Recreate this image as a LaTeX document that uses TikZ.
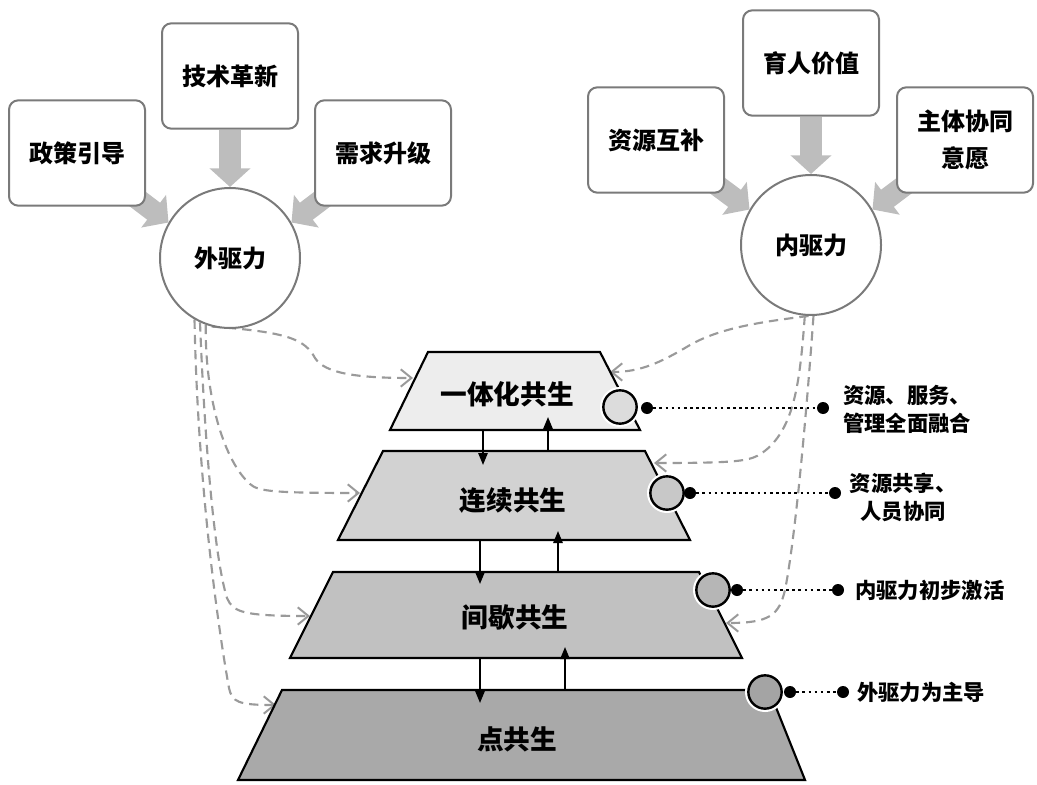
\documentclass[tikz,border=0pt]{standalone}
\usepackage{fontspec}
\setmainfont{Noto Sans CJK SC}
\usetikzlibrary{arrows.meta,backgrounds}
\definecolor{boxline}{HTML}{7A7A7A}
\definecolor{fatgray}{HTML}{BDBDBD}
\definecolor{dashgray}{HTML}{9A9A9A}
\definecolor{lv1}{HTML}{EDEDED}
\definecolor{lv2}{HTML}{D2D2D2}
\definecolor{lv3}{HTML}{C1C1C1}
\definecolor{lv4}{HTML}{A9A9A9}
\definecolor{mc1}{HTML}{DCDCDC}
\definecolor{mc2}{HTML}{C8C8C8}
\definecolor{mc3}{HTML}{B6B6B6}
\definecolor{mc4}{HTML}{A4A4A4}
\tikzset{
  srcbox/.style={draw=boxline, line width=1.5pt, rounded corners=7pt, fill=white,
    minimum width=102pt, minimum height=79pt, align=center, inner sep=2pt,
    font=\bfseries\fontsize{18}{28}\selectfont},
  drvcirc/.style={circle, draw=boxline, line width=1.5pt, fill=white, minimum size=105pt,
    inner sep=0pt, font=\bfseries\fontsize{18}{22}\selectfont},
  fatarrow/.style={draw=fatgray, line width=16pt, -{Triangle[length=14pt,width=30pt]}},
  dashconn/.style={draw=dashgray, line width=1.6pt, dash pattern=on 7pt off 4.5pt,
    -{Straight Barb[length=8pt,width=13pt,line width=1.5pt]}},
  lvlarrow/.style={draw=black, line width=1.4pt, -{Triangle[length=9pt,width=7pt]}},
  levelshape/.style={draw=black, line width=1.6pt, line join=miter},
  levellabel/.style={font=\bfseries\fontsize{20}{24}\selectfont, inner sep=0pt},
  minicirc/.style={circle, draw=black, line width=1.8pt, minimum size=25pt, inner sep=0pt,
    preaction={draw=white, line width=5pt}},
  blackdot/.style={circle, fill=black, minimum size=9pt, inner sep=0pt},
  dotline/.style={draw=black, line width=2pt, dash pattern=on 2pt off 2.6pt},
  sidelabel/.style={font=\bfseries\fontsize{16}{21}\selectfont, inner sep=0pt}
}
\begin{document}
\begin{tikzpicture}[x=0.75pt,y=-0.75pt]
\useasboundingbox (0,0) rectangle (1037,784);

% source boxes and driver circles
\node[srcbox] (zc) at (77,153) {政策引导};
\node[srcbox] (js) at (230,76) {技术革新};
\node[srcbox] (xq) at (383,153) {需求升级};
\node[drvcirc] (wai) at (230,258) {外驱力};

\node[srcbox] (zy) at (656,140) {资源互补};
\node[srcbox] (yr) at (811,63) {育人价值};
\node[srcbox] (zt) at (965,140) {主体协同\\意愿};
\node[drvcirc] (nei) at (811,245) {内驱力};

% level trapezoids
\coordinate (a1) at (428,352); \coordinate (b1) at (600,352);
\coordinate (c1) at (640,430); \coordinate (d1) at (390,430);
\coordinate (a2) at (383,451); \coordinate (b2) at (645,451);
\coordinate (c2) at (690,540); \coordinate (d2) at (338,540);
\coordinate (a3) at (333,572); \coordinate (b3) at (699,572);
\coordinate (c3) at (742,658); \coordinate (d3) at (290,658);
\coordinate (a4) at (282,690); \coordinate (b4) at (769,690);
\coordinate (c4) at (805,780); \coordinate (d4) at (238,780);
\draw[levelshape, fill=lv1] (a1) -- (b1) -- (c1) -- (d1) -- cycle;
\draw[levelshape, fill=lv2] (a2) -- (b2) -- (c2) -- (d2) -- cycle;
\draw[levelshape, fill=lv3] (a3) -- (b3) -- (c3) -- (d3) -- cycle;
\draw[levelshape, fill=lv4] (a4) -- (b4) -- (c4) -- (d4) -- cycle;
\node[levellabel] (l1) at (507,394) {一体化共生};
\node[levellabel] (l2) at (513,501) {连续共生};
\node[levellabel] (l3) at (515,617) {间歇共生};
\node[levellabel] (l4) at (517,739) {点共生};

% arrows between levels
\coordinate (p1s) at (483,430); \coordinate (p1e) at (483,465);
\coordinate (q1s) at (548,451); \coordinate (q1e) at (548,417);
\coordinate (p2s) at (480,540); \coordinate (p2e) at (480,584);
\coordinate (q2s) at (558,572); \coordinate (q2e) at (558,531);
\coordinate (p3s) at (480,658); \coordinate (p3e) at (480,703);
\coordinate (q3s) at (565,690); \coordinate (q3e) at (565,647);
\draw[lvlarrow] (p1s) -- (p1e);
\draw[lvlarrow] (q1s) -- (q1e);
\draw[lvlarrow] (p2s) -- (p2e);
\draw[lvlarrow] (q2s) -- (q2e);
\draw[lvlarrow] (p3s) -- (p3e);
\draw[lvlarrow] (q3s) -- (q3e);

% mini circles, dots and side labels
\node[minicirc, fill=mc1] (m1) at (620,407) {};
\node[minicirc, fill=mc2] (m2) at (667,493) {};
\node[minicirc, fill=mc3] (m3) at (713,590) {};
\node[minicirc, fill=mc4] (m4) at (765,692) {};
\node[blackdot] (s1) at (647,408) {};
\node[blackdot] (s2) at (690,493) {};
\node[blackdot] (s3) at (737,590) {};
\node[blackdot] (s4) at (790,692) {};
\node[blackdot] (f1) at (823,408) {};
\node[blackdot] (f2) at (835,493) {};
\node[blackdot] (f3) at (838,590) {};
\node[blackdot] (f4) at (843,692) {};
\draw[dotline] (s1) -- (f1);
\draw[dotline] (s2) -- (f2);
\draw[dotline] (s3) -- (f3);
\draw[dotline] (s4) -- (f4);
\node[sidelabel, anchor=west, align=left] (t1) at (843,409) {资源、服务、\\管理全面融合};
\node[sidelabel, align=center] (t2) at (903,497) {资源共享、\\人员协同};
\node[sidelabel, anchor=west] (t3) at (855,590) {内驱力初步激活};
\node[sidelabel, anchor=west] (t4) at (857,692) {外驱力为主导};

% end points of dashed connectors on the level sides
\coordinate (e1l) at (413,378);
\coordinate (e2l) at (360,493);
\coordinate (e3l) at (310,616);
\coordinate (e4l) at (276,705);
\coordinate (e1r) at (610,372);
\coordinate (e2r) at (654,463);
\coordinate (e3r) at (726,623);

\begin{scope}[on background layer]
\draw[fatarrow] (js.south) -- (wai.north);
\draw[fatarrow] (zc.center) -- (wai.150);
\draw[fatarrow] (xq.center) -- (wai.30);
\draw[fatarrow] (yr.south) -- (nei.north);
\draw[fatarrow] (zy.center) -- (nei.150);
\draw[fatarrow] (zt.center) -- (nei.30);

\draw[dashconn] (wai.-105) .. controls (290,332) and (305,340) .. (315,358)
  .. controls (325,374) and (360,378) .. (e1l);
\draw[dashconn] (wai.-110) .. controls (205,400) and (225,462) .. (250,484)
  .. controls (258,491) and (270,493) .. (e2l);
\draw[dashconn] (wai.-115) .. controls (205,450) and (215,560) .. (227,598)
  .. controls (233,612) and (242,616) .. (e3l);
\draw[dashconn] (wai.-120) .. controls (198,500) and (222,650) .. (229,688)
  .. controls (232,702) and (238,705) .. (e4l);

\draw[dashconn] (nei.-92) .. controls (760,322) and (720,328) .. (690,345)
  .. controls (660,363) and (640,372) .. (e1r);
\draw[dashconn] (nei.-95) .. controls (800,380) and (795,430) .. (762,453)
  .. controls (750,461) and (740,463) .. (e2r);
\draw[dashconn] (nei.-88) .. controls (806,420) and (795,540) .. (785,590)
  .. controls (779,615) and (770,623) .. (e3r);
\end{scope}
\end{tikzpicture}
\end{document}
